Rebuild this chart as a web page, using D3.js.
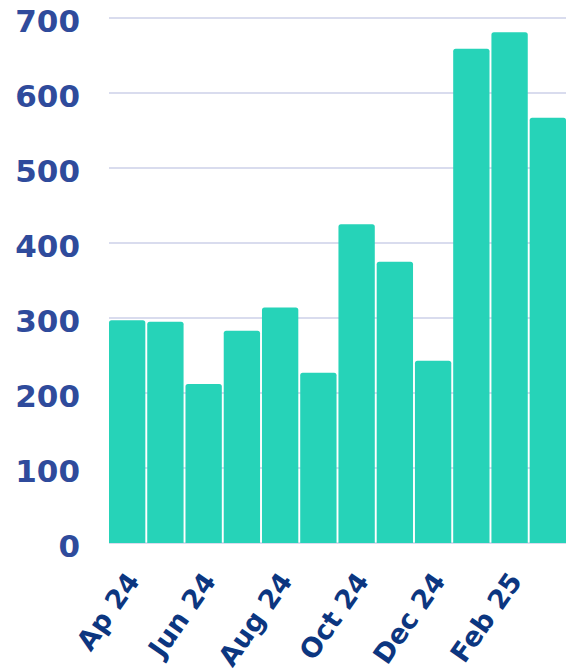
<!DOCTYPE html>
<html>
<head>
<meta charset="utf-8">
<script src="https://cdn.jsdelivr.net/npm/d3@7"></script>
<style>
  body { margin: 0; background: #fff; }
  svg { display: block; }
</style>
</head>
<body>
<div id="chart"></div>
<script>
var months = ["Ap 24", "May 24", "Jun 24", "Jul 24", "Aug 24", "Sep 24",
              "Oct 24", "Nov 24", "Dec 24", "Jan 25", "Feb 25", "Mar 25"];
var values = [297, 295, 212, 283, 314, 227, 425, 375, 243, 659, 681, 567];
var shownTicks = ["Ap 24", "Jun 24", "Aug 24", "Oct 24", "Dec 24", "Feb 25"];
var yTicks = [0, 100, 200, 300, 400, 500, 600, 700];

var margin = {top: 18, right: 0, bottom: 129, left: 109},
    width = 566 - margin.left - margin.right,
    height = 672 - margin.top - margin.bottom;

var svg = d3.select("#chart").append("svg")
    .attr("width", 566)
    .attr("height", 672)
  .append("g")
    .attr("transform", "translate(" + margin.left + "," + margin.top + ")");

var x = d3.scaleBand()
    .domain(months)
    .range([0, width])
    .paddingInner(0.05)
    .paddingOuter(0);

var y = d3.scaleLinear()
    .domain([0, 700])
    .range([height, 0]);

// grid lines
svg.selectAll(".grid")
    .data(yTicks)
  .enter().append("line")
    .attr("x1", 0)
    .attr("x2", width)
    .attr("y1", function(d) { return y(d); })
    .attr("y2", function(d) { return y(d); })
    .attr("stroke", "#ccd1e8")
    .attr("stroke-width", 1.5);

// bars with small rounded tops
svg.selectAll(".bar")
    .data(values)
  .enter().append("path")
    .attr("class", "bar")
    .attr("fill", "#26d3b8")
    .attr("d", function(d, i) {
      var x0 = x(months[i]), w = x.bandwidth(), top = y(d), r = 2.5;
      return "M" + x0 + "," + y(0) +
             "V" + (top + r) +
             "Q" + x0 + "," + top + " " + (x0 + r) + "," + top +
             "H" + (x0 + w - r) +
             "Q" + (x0 + w) + "," + top + " " + (x0 + w) + "," + (top + r) +
             "V" + y(0) + "Z";
    });

// y axis labels
var yAxis = svg.append("g")
    .call(d3.axisLeft(y).tickValues(yTicks).tickSize(0).tickPadding(29));
yAxis.select(".domain").remove();
yAxis.selectAll("text")
    .attr("fill", "#2f4b9c")
    .attr("dy", "0.42em")
    .style("font-family", "'DejaVu Sans', sans-serif")
    .style("font-weight", "bold")
    .style("font-size", "31px");

// x axis labels
var xAxis = svg.append("g")
    .attr("transform", "translate(0," + height + ")")
    .call(d3.axisBottom(x).tickValues(shownTicks).tickSize(0));
xAxis.select(".domain").remove();
xAxis.selectAll("text")
    .attr("fill", "#0c3680")
    .style("font-family", "'DejaVu Sans', sans-serif")
    .style("font-weight", "bold")
    .style("font-size", "27px")
    .attr("text-anchor", "end")
    .attr("x", 0)
    .attr("y", 0)
    .attr("dy", "0")
    .attr("transform", "translate(13.5,38) rotate(-55)");
</script>
</body>
</html>
